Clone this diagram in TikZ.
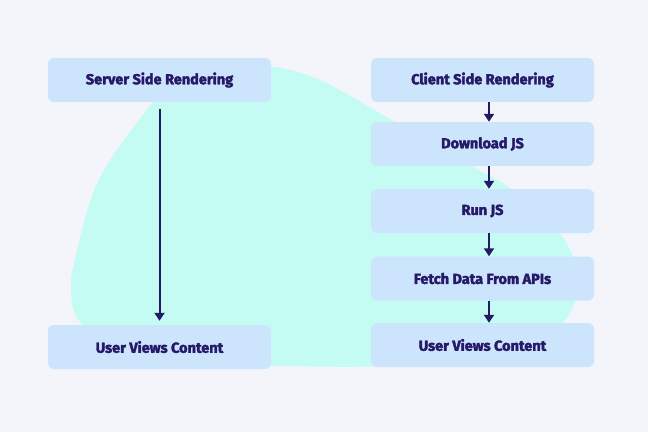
\documentclass[tikz,border=0pt]{standalone}
\usepackage{fontspec}
\setmainfont{Fira Sans}[BoldFeatures={FakeBold=2.6}]
\usetikzlibrary{arrows.meta}

\definecolor{mycolor1}{HTML}{F4F5FA}
\definecolor{mycolor2}{HTML}{C4FCF4}
\definecolor{mycolor3}{HTML}{CCE5FD}
\definecolor{mycolor4}{HTML}{261A68}

\tikzset{
  stagebox/.style={fill=mycolor3,rounded corners=6pt,minimum width=223pt,minimum height=44pt,
    inner sep=0pt,text=mycolor4,font=\bfseries\fontsize{14.5}{16}\selectfont},
  flowarrow/.style={draw=mycolor4,line width=2pt,-{Triangle[width=10pt,length=8pt]}}
}

\begin{document}
\begin{tikzpicture}[x=1pt,y=-1pt]
\fill [mycolor1] (0,0) rectangle (648,432);
\useasboundingbox (0,0) rectangle (648,432);

% blob behind the boxes
\fill [mycolor2] plot [smooth cycle,tension=0.6] coordinates {
  (240,66) (310,76) (395,122) (473,167) (510,188) (560,233) (578,280)
  (563,323) (510,358) (400,366) (270,366) (130,362) (80,322) (71,288)
  (76,255) (95,188) (129,133) (172,87)};

% server side
\node [stagebox] (ssr) at (159.5,80) {Server Side Rendering};
\node [stagebox] (ssrview) at (159.5,347) {User Views Content};
\draw [flowarrow] ([yshift=-7pt]ssr.south) -- ([yshift=4pt]ssrview.north);

% client side
\node [stagebox] (csr) at (482.5,80) {Client Side Rendering};
\node [stagebox] (download) at (482.5,144) {Download JS};
\node [stagebox] (run) at (482.5,211) {Run JS};
\node [stagebox] (fetch) at (482.5,278.5) {Fetch Data From APIs};
\node [stagebox] (csrview) at (482.5,345) {User Views Content};

\foreach \a/\b in {csr/download,download/run,run/fetch,fetch/csrview}
  \draw [flowarrow] ([xshift=6.5pt]\a.south) -- ([xshift=6.5pt]\b.north);
\end{tikzpicture}
\end{document}
